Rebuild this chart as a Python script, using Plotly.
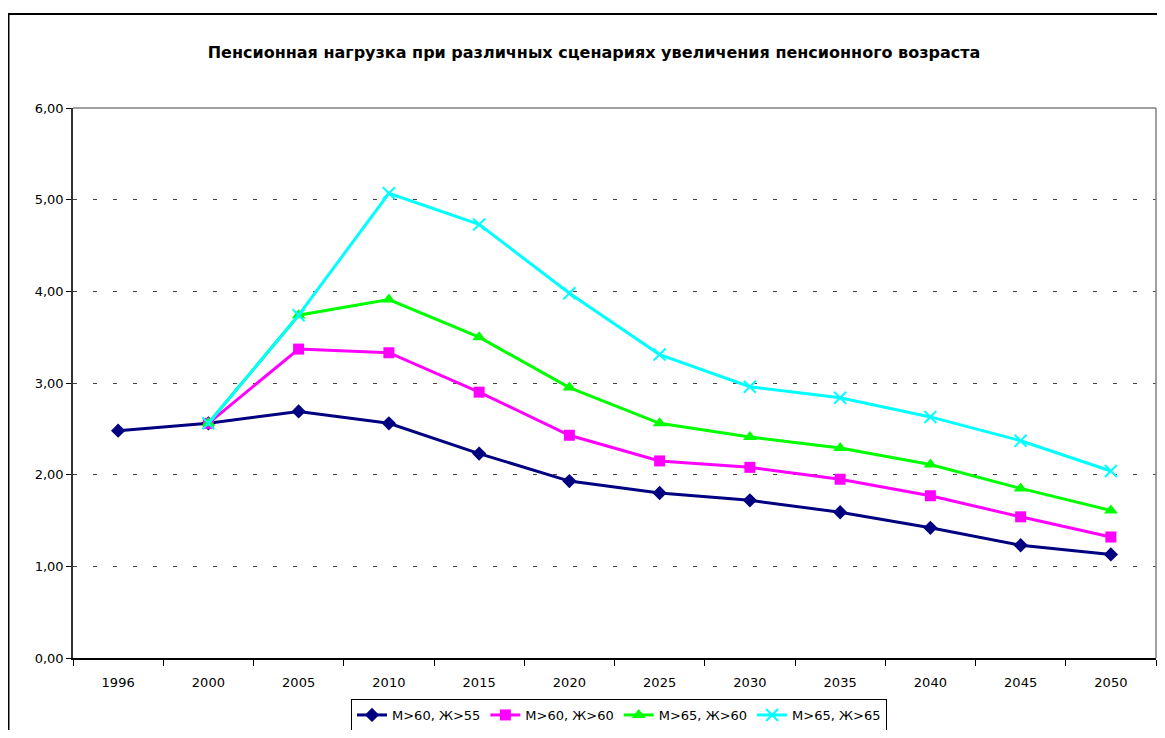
import plotly.graph_objects as go

years = ["1996", "2000", "2005", "2010", "2015", "2020", "2025", "2030", "2035", "2040", "2045", "2050"]
s1_name = "М>60, Ж>55"
s1 = [2.48, 2.56, 2.69, 2.56, 2.23, 1.93, 1.80, 1.72, 1.59, 1.42, 1.23, 1.13]
s2_name = "М>60, Ж>60"
s2 = [None, 2.56, 3.37, 3.33, 2.90, 2.43, 2.15, 2.08, 1.95, 1.77, 1.54, 1.32]
s3_name = "М>65, Ж>60"
s3 = [None, 2.56, 3.74, 3.91, 3.50, 2.95, 2.56, 2.41, 2.29, 2.11, 1.85, 1.61]
s4_name = "М>65, Ж>65"
s4 = [None, 2.56, 3.74, 5.07, 4.73, 3.98, 3.31, 2.96, 2.84, 2.63, 2.37, 2.04]
yticks = [0, 1, 2, 3, 4, 5, 6]
ytick_text = ["0,00", "1,00", "2,00", "3,00", "4,00", "5,00", "6,00"]
title = "Пенсионная нагрузка при различных сценариях увеличения пенсионного возраста"

# page body has an 8px margin; size the figure so the page fits the window exactly
OFF = 8
W, H = 1165 - 2 * OFF, 738 - 2 * OFF
L, R, T, B = 73 - OFF, W - 1, 108 - OFF, 658 - OFF
pw, ph = R - L, B - T

def px(x):
    return (x - OFF - L) / pw

def py(y):
    return (B - (y - OFF)) / ph

FONT = "DejaVu Sans, Liberation Sans, Arial, sans-serif"

fig = go.Figure()
fig.add_trace(go.Scatter(x=years, y=s1, name=s1_name, mode="lines+markers",
                         line=dict(color="#000080", width=3),
                         marker=dict(symbol="diamond", size=11, color="#000080")))
fig.add_trace(go.Scatter(x=years, y=s2, name=s2_name, mode="lines+markers",
                         line=dict(color="#FF00FF", width=3),
                         marker=dict(symbol="square", size=11, color="#FF00FF")))
fig.add_trace(go.Scatter(x=years, y=s3, name=s3_name, mode="lines+markers",
                         line=dict(color="#00FF00", width=3),
                         marker=dict(symbol="triangle-up", size=12, color="#00FF00")))
fig.add_trace(go.Scatter(x=years, y=s4, name=s4_name, mode="lines+markers",
                         line=dict(color="#00FFFF", width=3),
                         marker=dict(symbol="x-thin-open", size=12, color="#00FFFF",
                                     line=dict(color="#00FFFF", width=2))))

fig.update_layout(
    width=W, height=H,
    margin=dict(l=L, r=W - R, t=T, b=H - B, autoexpand=False),
    paper_bgcolor="white", plot_bgcolor="white",
    font=dict(family=FONT, size=13, color="black"),
    title=dict(text="<b>" + title + "</b>", x=px(594), xref="paper", xanchor="center",
               y=1 - (52 - OFF) / H, yanchor="middle",
               font=dict(family=FONT, size=16, color="black")),
    showlegend=True,
    legend=dict(orientation="h", x=px(619), xanchor="center", y=py(699), yanchor="top",
                bordercolor="black", borderwidth=1, bgcolor="white",
                font=dict(family=FONT, size=13, color="black"),
                itemwidth=30, tracegroupgap=0),
    xaxis=dict(type="category", range=[-0.5, 11.5], showgrid=False,
               showline=True, linecolor="black", linewidth=1.5,
               ticks="outside", tickson="boundaries", ticklen=6, tickcolor="black",
               ticklabelstandoff=12,
               tickfont=dict(family=FONT, size=13), fixedrange=True),
    yaxis=dict(range=[0, 6], tickvals=yticks, ticktext=ytick_text,
               showgrid=True, gridcolor="#444444", gridwidth=1, griddash="4px,16px",
               showline=True, linecolor="#333333", linewidth=1.5,
               ticks="outside", ticklen=5, tickcolor="black", zeroline=False,
               tickfont=dict(family=FONT, size=13), fixedrange=True),
    shapes=[
        dict(type="line", xref="paper", yref="paper", x0=0, x1=1, y0=1, y1=1,
             line=dict(color="#808080", width=1.5)),
        dict(type="line", xref="paper", yref="paper", x0=1, x1=1, y0=0, y1=1,
             line=dict(color="#808080", width=1.5)),
        dict(type="rect", xref="paper", yref="paper", x0=px(8.5), x1=px(1200),
             y0=py(780), y1=py(14), line=dict(color="black", width=2), layer="below"),
    ],
)

fig.write_html("out.html")
